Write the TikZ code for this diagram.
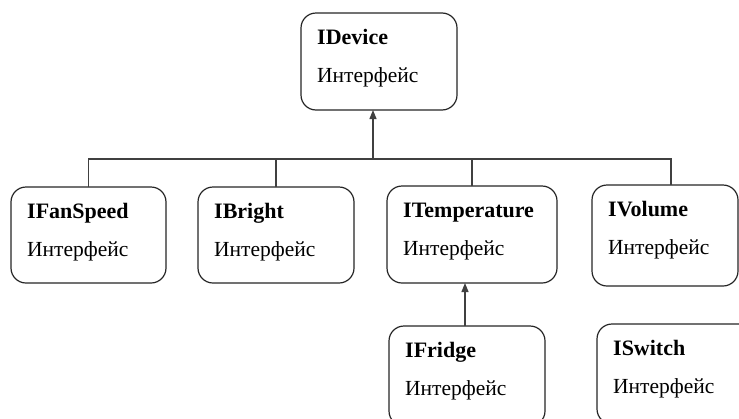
\documentclass[tikz,border=0pt]{standalone}
\usepackage{fontspec}
\setmainfont{Liberation Serif}
\usetikzlibrary{arrows.meta}

\tikzset{
  ibox/.style={draw=black!85, line width=1.2pt, rounded corners=15pt,
               inner sep=0pt, outer sep=0pt, fill=white},
  ititle/.style={inner sep=0pt, font=\fontsize{22}{26}\selectfont\bfseries},
  isub/.style={inner sep=0pt, font=\fontsize{21.5}{26}\selectfont},
  conn/.style={draw=black!75, line width=1.2pt},
  arr/.style={conn, -{Triangle[length=9pt,width=7pt]}}
}

% interface box: name, left, top, width, height, title
\newcommand\ifacebox[6]{%
  \node[ibox, minimum width=#4pt, minimum height=#5pt, anchor=north west] (#1) at (#2,-#3) {};
  \node[ititle, anchor=base west] (#1-t) at ([xshift=16pt,yshift=-31pt]#1.north west) {#6};
  \node[isub, anchor=base west] (#1-s) at ([xshift=16pt,yshift=-69pt]#1.north west) {Интерфейс};
}

\begin{document}
\begin{tikzpicture}[x=1pt,y=1pt]
  \useasboundingbox (0,0) rectangle (739,-418);
  \clip (0,0) rectangle (739,-418);

  \ifacebox{dev}{301}{13}{156}{97}{IDevice}
  \ifacebox{fan}{11}{187}{155}{96}{IFanSpeed}
  \ifacebox{bri}{198}{187}{156}{96}{IBright}
  \ifacebox{tem}{387}{186}{170}{97}{ITemperature}
  \ifacebox{vol}{592}{185}{146}{101}{IVolume}
  \ifacebox{fri}{389}{326}{156}{100}{IFridge}
  \ifacebox{swi}{597}{324}{156}{100}{ISwitch}

  % horizontal bus level
  \coordinate (busy) at (0,-159);

  % bus with drops to the second row
  \draw[conn] (fan.north) |- ([xshift=6pt]vol.north |- busy) -- ([xshift=6pt]vol.north);
  \draw[conn] (bri.north) -- (bri.north |- busy);
  \draw[conn] (tem.north) -- (tem.north |- busy);

  % inheritance arrows
  \draw[arr] ([xshift=-6pt]dev.south |- busy) -- ([xshift=-6pt]dev.south);
  \draw[arr] ([xshift=-2pt]fri.north) -- ([xshift=-2pt]fri.north |- tem.south);
\end{tikzpicture}
\end{document}
